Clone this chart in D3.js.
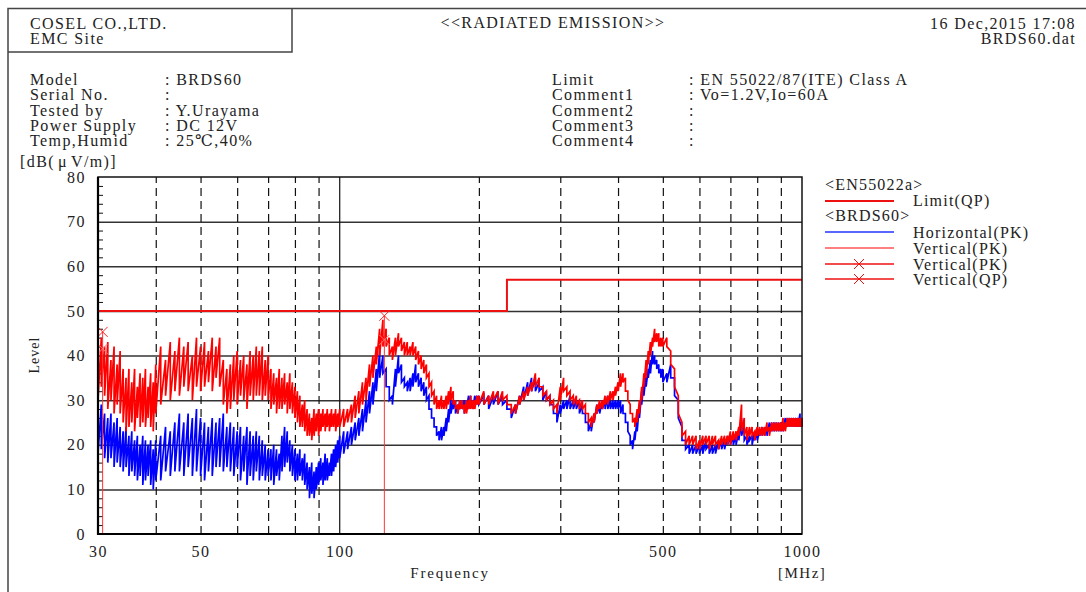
<!DOCTYPE html>
<html>
<head>
<meta charset="utf-8">
<script src="https://cdn.jsdelivr.net/npm/d3@7"></script>
<style>
  body { margin: 0; background: #fff; }
  text { font-family: "Liberation Serif", "DejaVu Serif", serif; fill: #222; }
</style>
</head>
<body>
<div class="chart"></div>
<script>
"use strict";

// sample frequencies [MHz]
const freqs = [
  30, 30.5, 31, 31.5, 32, 32.5, 33, 33.5, 34, 34.5, 35, 35.5, 36, 36.5, 37, 37.5, 38, 38.5, 39, 39.5, 40,
  41, 42, 43, 44, 45, 46, 47, 48, 49, 50, 51, 52, 53, 54, 55, 56, 57, 58, 59, 60,
  61, 62, 63, 64, 65, 66, 67, 68, 69, 70, 71, 72, 73, 74, 75, 76, 77, 78, 79, 80,
  81, 82, 83, 84, 85, 86, 87, 88, 89, 90, 91, 92, 93, 94, 95, 96, 97, 98, 99, 100,
  102, 104, 106, 108, 110, 112, 114, 116, 118, 120, 122, 124, 126, 128, 130, 132, 134, 136, 138, 140,
  142, 144, 146, 148, 150, 152, 154, 156, 158, 160, 162, 164, 166, 168, 170, 172, 174, 176, 178, 180,
  182, 184, 186, 188, 190, 192, 194, 196, 198, 200,
  205, 210, 215, 220, 225, 230, 235, 240, 245, 250, 255, 260, 265, 270, 275, 280, 285, 290, 295, 300,
  305, 310, 315, 320, 325, 330, 335, 340, 345, 350, 355, 360, 365, 370, 375, 380, 385, 390, 395, 400,
  405, 410, 415, 420, 425, 430, 435, 440, 445, 450, 455, 460, 465, 470, 475, 480, 485, 490, 495, 500,
  510, 520, 530, 540, 550, 560, 570, 580, 590, 600, 610, 620, 630, 640, 650, 660, 670, 680, 690, 700,
  710, 720, 730, 740, 750, 760, 770, 780, 790, 800, 810, 820, 830, 840, 850, 860, 870, 880, 890, 900,
  910, 920, 930, 940, 950, 960, 970, 980, 990, 1000
];

// Vertical(PK) upper / lower envelope [dB(uV/m)]
const vpkHi = [
  41, 44, 42, 43, 39, 42, 38, 41, 37, 35, 37, 34, 37, 33, 36, 35, 37, 33, 36, 34, 38,
  42, 39, 43, 41, 44, 42, 43, 40, 44, 42, 43, 41, 44, 42, 44, 39, 37, 38, 40, 41,
  39, 40, 38, 41, 40, 42, 41, 42, 39, 40, 37, 36, 35, 37, 35, 36, 34, 36, 34, 33,
  32, 31, 29, 30, 28, 27, 26, 28, 27, 28, 27, 28, 27, 28, 27, 28, 27, 28, 27, 28,
  28, 28, 29, 31, 32, 34, 35, 38, 40, 42, 46, 48, 46, 44, 42, 44, 45, 44, 43, 43,
  42, 43, 42, 41, 40, 39, 38, 36, 34, 32, 31, 30, 31, 30, 31, 32, 33, 32, 30, 29,
  30, 30, 29, 30, 30, 31, 30, 30, 31, 31,
  32, 31, 32, 32, 32, 31, 29, 29, 31, 32, 33, 34, 36, 35, 33, 32, 31, 30, 29, 33,
  35, 33, 32, 31, 31, 30, 30, 29, 27, 26, 27, 29, 30, 30, 31, 31, 32, 32, 33, 34,
  36, 36, 35, 32, 29, 27, 26, 28, 30, 33, 36, 39, 41, 43, 44, 46, 45, 45, 44, 44,
  44, 41, 37, 31, 25, 23, 22, 22, 22, 21, 22, 22, 22, 22, 22, 21, 22, 22, 22, 23,
  23, 23, 24, 29, 26, 24, 24, 24, 23, 24, 24, 24, 24, 25, 24, 25, 25, 25, 25, 25,
  26, 25, 26, 26, 26, 26, 26, 26, 26, 26
];
const vpkLo = [
  30, 33, 31, 28, 30, 27, 29, 27, 25, 23, 24, 25, 23, 26, 24, 25, 24, 26, 24, 23, 27,
  29, 31, 30, 32, 31, 33, 32, 30, 33, 32, 33, 34, 32, 35, 33, 29, 27, 28, 30, 29,
  31, 30, 28, 31, 30, 31, 31, 30, 31, 30, 28, 29, 27, 28, 28, 29, 27, 28, 27, 26,
  25, 24, 24, 23, 22, 22, 21, 22, 23, 22, 23, 24, 23, 24, 23, 24, 24, 23, 24, 24,
  24, 25, 25, 26, 27, 29, 30, 33, 35, 38, 40, 42, 42, 40, 39, 40, 42, 41, 40, 40,
  40, 40, 39, 38, 37, 36, 35, 33, 31, 29, 28, 28, 28, 28, 28, 29, 30, 29, 28, 27,
  28, 28, 27, 27, 28, 28, 28, 28, 29, 29,
  29, 29, 30, 29, 30, 29, 27, 27, 29, 30, 31, 32, 33, 33, 31, 30, 29, 28, 27, 30,
  32, 31, 30, 29, 29, 28, 28, 27, 25, 24, 25, 27, 28, 28, 29, 29, 30, 30, 31, 32,
  33, 34, 32, 30, 27, 25, 24, 25, 27, 30, 33, 35, 38, 40, 42, 43, 43, 42, 42, 42,
  42, 38, 33, 27, 22, 20, 20, 20, 19, 19, 20, 20, 19, 20, 20, 19, 20, 20, 20, 20,
  21, 21, 22, 23, 22, 21, 22, 22, 21, 22, 22, 22, 22, 23, 22, 23, 23, 23, 23, 23,
  23, 23, 24, 24, 24, 24, 24, 24, 24, 24
];

// Horizontal(PK) upper / lower envelope [dB(uV/m)]
const hpkHi = [
  27, 29, 27, 26, 27, 25, 26, 24, 23, 24, 22, 23, 21, 22, 20, 22, 21, 20, 21, 19, 21,
  22, 24, 23, 25, 27, 25, 27, 26, 28, 26, 25, 24, 26, 25, 26, 27, 24, 25, 24, 23,
  24, 22, 24, 23, 22, 23, 22, 21, 20, 19, 19, 20, 19, 18, 22, 24, 23, 21, 20, 19,
  18, 19, 17, 18, 16, 15, 16, 14, 15, 16, 17, 16, 18, 17, 16, 18, 19, 20, 21, 22,
  23, 23, 24, 25, 26, 28, 30, 32, 34, 37, 41, 40, 37, 33, 31, 37, 40, 38, 35, 34,
  35, 36, 38, 36, 35, 34, 33, 31, 28, 26, 24, 23, 24, 24, 26, 28, 30, 30, 30, 29,
  30, 30, 30, 30, 31, 31, 30, 31, 31, 31,
  31, 31, 31, 32, 31, 30, 28, 29, 31, 33, 34, 35, 35, 34, 33, 32, 31, 29, 27, 29,
  30, 30, 31, 30, 30, 30, 29, 27, 25, 25, 27, 29, 29, 30, 30, 31, 30, 30, 30, 30,
  30, 29, 27, 25, 22, 21, 23, 26, 29, 32, 34, 36, 37, 39, 41, 40, 39, 38, 37, 37,
  36, 38, 35, 30, 24, 21, 20, 20, 20, 20, 20, 21, 20, 20, 20, 21, 21, 21, 22, 22,
  22, 22, 23, 26, 24, 22, 22, 22, 23, 23, 23, 24, 24, 24, 25, 25, 25, 25, 25, 25,
  25, 26, 26, 26, 26, 26, 26, 26, 27, 26
];
const hpkLo = [
  18, 19, 17, 16, 17, 15, 16, 15, 14, 15, 13, 14, 13, 12, 13, 11, 12, 13, 11, 10, 12,
  12, 14, 13, 14, 14, 13, 15, 13, 14, 13, 12, 14, 13, 15, 15, 14, 15, 14, 13, 15,
  12, 14, 11, 13, 12, 14, 12, 13, 12, 13, 12, 11, 13, 12, 14, 15, 16, 14, 13, 12,
  12, 13, 12, 11, 10, 8, 9, 8, 10, 11, 12, 11, 12, 12, 13, 13, 14, 15, 16, 17,
  18, 19, 20, 21, 22, 23, 25, 27, 29, 32, 35, 36, 33, 30, 29, 33, 36, 34, 33, 32,
  32, 33, 34, 33, 32, 31, 30, 28, 26, 24, 22, 21, 21, 22, 23, 25, 27, 28, 27, 27,
  28, 28, 27, 28, 28, 29, 28, 29, 29, 29,
  29, 28, 29, 29, 29, 28, 26, 27, 29, 30, 31, 32, 32, 32, 30, 30, 29, 27, 25, 27,
  28, 28, 28, 28, 28, 27, 27, 25, 23, 23, 25, 27, 27, 28, 28, 28, 28, 28, 28, 28,
  27, 27, 25, 23, 20, 19, 21, 23, 26, 29, 31, 33, 35, 36, 38, 38, 37, 36, 35, 34,
  34, 35, 31, 26, 21, 19, 18, 18, 18, 18, 18, 19, 18, 18, 18, 19, 19, 19, 20, 20,
  20, 20, 21, 22, 21, 20, 21, 20, 21, 21, 22, 22, 22, 22, 23, 23, 23, 23, 23, 23,
  23, 24, 24, 24, 24, 24, 24, 24, 24, 24
];

// EN55022a Limit(QP)
const limitFreq = [30, 230, 230, 1000];
const limitLevel = [50, 50, 57, 57];

// marker points
const markerFreq = [30.7, 124.9];
const markerPk = [45.3, 48.9];
const markerQp = [41.5, 43.5];

const yTicks = [0, 10, 20, 30, 40, 50, 60, 70, 80];
const yMinor = [2, 4, 6, 8, 12, 14, 16, 18, 22, 24, 26, 28, 32, 34, 36, 38, 42, 44, 46, 48, 52, 54, 56, 58, 62, 64, 66, 68, 72, 74, 76, 78];
const xTicks = [30, 50, 100, 500, 1000];
const xDashed = [40, 50, 60, 70, 80, 90, 200, 300, 400, 500, 600, 700, 800, 900];

const infoLabels = ["Model", "Serial No.", "Tested by", "Power Supply", "Temp,Humid"];
const infoValues = ["BRDS60", "", "Y.Urayama", "DC 12V", "25℃,40%"];
const commentLabels = ["Limit", "Comment1", "Comment2", "Comment3", "Comment4"];
const commentValues = ["EN 55022/87(ITE) Class A", "Vo=1.2V,Io=60A", "", "", ""];

const W = 1086, H = 592;
const margin = {top: 177, right: 284, bottom: 58, left: 98};
const width = W - margin.left - margin.right;
const height = H - margin.top - margin.bottom;

let svg = d3.select(".chart").append("svg")
    .attr("width", W)
    .attr("height", H);

// page frame
svg.append("path")
    .attr("d", "M8,592 V8.5 H1086 M8,52 H292 V8.5")
    .attr("fill", "none")
    .attr("stroke", "#444")
    .attr("stroke-width", 1.5);

let head = svg.append("g").style("font-size", "16px").style("letter-spacing", "1.4px");
head.append("text").attr("x", 30).attr("y", 29).text("COSEL CO.,LTD.");
head.append("text").attr("x", 30).attr("y", 44).text("EMC Site");
head.append("text").attr("x", 553).attr("y", 28).attr("text-anchor", "middle").text("<<RADIATED EMISSION>>");
head.append("text").attr("x", 1076).attr("y", 29).attr("text-anchor", "end").text("16 Dec,2015 17:08");
head.append("text").attr("x", 1076).attr("y", 44).attr("text-anchor", "end").text("BRDS60.dat");

infoLabels.forEach((d, i) => {
    let yy = 85 + i * 15.3;
    head.append("text").attr("x", 30).attr("y", yy).text(d);
    head.append("text").attr("x", 165).attr("y", yy).text(": " + infoValues[i]);
    head.append("text").attr("x", 552).attr("y", yy).text(commentLabels[i]);
    head.append("text").attr("x", 689).attr("y", yy).text(": " + commentValues[i]);
});

let unit = head.append("text").attr("x", 20).attr("y", 167);
unit.append("tspan").text("[dB(");
unit.append("tspan").attr("dx", 3).text("μ");
unit.append("tspan").attr("dx", 3).text("V/m)]");

let g = svg.append("g")
    .attr("transform", "translate(" + margin.left + "," + margin.top + ")");

let x = d3.scaleLog().domain([30, 1000]).range([0, width]);
let y = d3.scaleLinear().domain([0, 80]).range([height, 0]);

// grid
g.append("g")
    .attr("class", "grid-h")
    .call(d3.axisLeft(y).tickValues(yTicks.slice(1, 8)).tickSize(-width).tickFormat(""))
    .call(s => s.select(".domain").remove())
    .selectAll("line")
    .attr("stroke", "#333")
    .attr("stroke-width", 1.5);

g.append("g")
    .attr("transform", "translate(0," + height + ")")
    .call(d3.axisBottom(x).tickValues(xDashed).tickSize(-height).tickFormat(""))
    .call(s => s.select(".domain").remove())
    .selectAll("line")
    .attr("stroke", "#111")
    .attr("stroke-width", 1.2)
    .attr("stroke-dasharray", "8,5");

g.append("line")
    .attr("x1", x(100)).attr("x2", x(100))
    .attr("y1", 0).attr("y2", height)
    .attr("stroke", "#111")
    .attr("stroke-width", 1.2);

// minor ticks on left axis
g.append("g")
    .call(d3.axisRight(y).tickValues(yMinor).tickSize(5).tickFormat(""))
    .call(s => s.select(".domain").remove())
    .selectAll("line")
    .attr("stroke", "#111");

// traces
let zig = (hi, lo) => freqs.flatMap((f, i) => [[f, hi[i]], [f, lo[i]]]);
let line = d3.line().x(d => x(d[0])).y(d => y(d[1]));

g.append("path")
    .attr("d", line(zig(hpkHi, hpkLo)))
    .attr("fill", "none")
    .attr("stroke", "#0000ff")
    .attr("stroke-width", 1.7);

g.append("path")
    .attr("d", line(zig(vpkHi, vpkLo)))
    .attr("fill", "none")
    .attr("stroke", "#ff0000")
    .attr("stroke-width", 1.7);

// limit
g.append("path")
    .attr("d", line(limitFreq.map((f, i) => [f, limitLevel[i]])))
    .attr("fill", "none")
    .attr("stroke", "#ee1111")
    .attr("stroke-width", 2);

// markers
let cross = (px, py, s) => "M" + (px - s) + "," + (py - s) + "L" + (px + s) + "," + (py + s) +
    "M" + (px - s) + "," + (py + s) + "L" + (px + s) + "," + (py - s);

markerFreq.forEach((f, i) => {
    g.append("line")
        .attr("x1", x(f)).attr("x2", x(f))
        .attr("y1", height).attr("y2", y(markerPk[i]))
        .attr("stroke", "#ff3333")
        .attr("stroke-width", 1);
    g.append("path")
        .attr("d", cross(x(f), y(markerPk[i]), 5))
        .attr("fill", "none")
        .attr("stroke", "#ff2222")
        .attr("stroke-width", 1);
    g.append("path")
        .attr("d", cross(x(f), y(markerQp[i]), 5))
        .attr("fill", "none")
        .attr("stroke", "#ff7777")
        .attr("stroke-width", 1);
});

// plot frame
g.append("rect")
    .attr("width", width).attr("height", height)
    .attr("fill", "none")
    .attr("stroke", "#111")
    .attr("stroke-width", 1.5);
g.append("path")
    .attr("d", "M0,0 V" + height + " H" + width)
    .attr("fill", "none")
    .attr("stroke", "#000")
    .attr("stroke-width", 2.2);

// axis labels
let yAxis = g.append("g")
    .call(d3.axisLeft(y).tickValues(yTicks).tickSize(0).tickPadding(12));
yAxis.select(".domain").remove();
yAxis.selectAll("text")
    .style("font-family", "Liberation Serif")
    .style("font-size", "16px")
    .style("letter-spacing", "1.5px")
    .attr("fill", "#222");

let xAxis = g.append("g")
    .attr("transform", "translate(0," + height + ")")
    .call(d3.axisBottom(x).tickValues(xTicks).tickFormat(d3.format("d")).tickSize(0).tickPadding(12));
xAxis.select(".domain").remove();
xAxis.selectAll("text")
    .style("font-family", "Liberation Serif")
    .style("font-size", "16px")
    .style("letter-spacing", "1.5px")
    .attr("fill", "#222");

svg.append("text")
    .attr("transform", "translate(39,355) rotate(-90)")
    .attr("text-anchor", "middle")
    .style("font-size", "14px")
    .style("letter-spacing", "1px")
    .text("Level");

svg.append("text")
    .attr("x", 450).attr("y", 578)
    .attr("text-anchor", "middle")
    .style("font-size", "15px")
    .style("letter-spacing", "1.8px")
    .text("Frequency");

svg.append("text")
    .attr("x", 778).attr("y", 578)
    .style("font-size", "15px")
    .style("letter-spacing", "1.5px")
    .text("[MHz]");

// legend
let lg = svg.append("g").style("font-size", "16px").style("letter-spacing", "1.2px");
lg.append("text").attr("x", 825).attr("y", 190).text("<EN55022a>");
lg.append("line").attr("x1", 825).attr("x2", 894).attr("y1", 201).attr("y2", 201)
    .attr("stroke", "#ee1111").attr("stroke-width", 2);
lg.append("text").attr("x", 913).attr("y", 206).text("Limit(QP)");
lg.append("text").attr("x", 825).attr("y", 221).text("<BRDS60>");

let legendRows = [
    {name: "Horizontal(PK)", color: "#2233ff", y: 232, mark: false},
    {name: "Vertical(PK)", color: "#ff5555", y: 248, mark: false},
    {name: "Vertical(PK)", color: "#ee1111", y: 264, mark: true},
    {name: "Vertical(QP)", color: "#ee1111", y: 279, mark: true}
];
legendRows.forEach(r => {
    lg.append("line").attr("x1", 825).attr("x2", 894).attr("y1", r.y).attr("y2", r.y)
        .attr("stroke", r.color).attr("stroke-width", 1.5);
    if (r.mark) {
        lg.append("path").attr("d", cross(859, r.y, 5))
            .attr("fill", "none")
            .attr("stroke", r.color).attr("stroke-width", 1);
    }
    lg.append("text").attr("x", 913).attr("y", r.y + 5.5).text(r.name);
});
</script>
</body>
</html>
